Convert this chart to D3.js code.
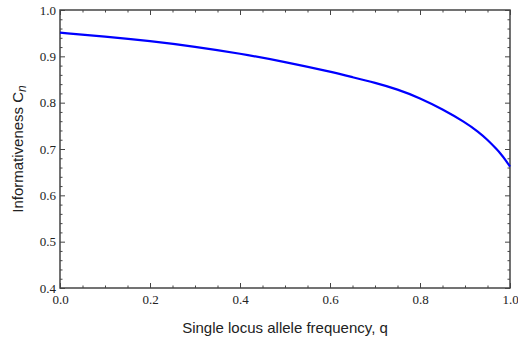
<!DOCTYPE html>
<html lang="en">
<head>
<meta charset="UTF-8">
<script src="https://d3js.org/d3.v7.min.js"></script>
<style>
  body { margin: 0; background: #fff; }
  #plot { position: absolute; width: 518px; height: 344px; }
  .tick text { font-family: "Liberation Serif", "Times New Roman", serif; font-size: 13px; }
</style>
</head>
<body>
<div id="plot"></div>
<script>
// values
const freq = [0, 0.1, 0.2, 0.3, 0.4, 0.5, 0.6, 0.65, 0.7, 0.75, 0.8, 0.85, 0.9, 0.93, 0.95, 0.97, 0.98, 0.99, 1.0];
const informativeness = [0.951, 0.943, 0.933, 0.921, 0.906, 0.888, 0.867, 0.855, 0.843, 0.829, 0.810, 0.786, 0.758, 0.737, 0.720, 0.700, 0.689, 0.6765, 0.662];
const xTicks = [0, 0.2, 0.4, 0.6, 0.8, 1.0];
const yTicks = [0.4, 0.5, 0.6, 0.7, 0.8, 0.9, 1.0];

function drawChart() {
  const margin = {top: 10, right: 8, bottom: 56, left: 60};
  const width = 518, height = 344;
  const visWidth = width - margin.left - margin.right;
  const visHeight = height - margin.top - margin.bottom;

  const svg = d3.select("#plot").append("svg")
      .attr("width", width)
      .attr("height", height);
  const g = svg.append("g")
      .attr("transform", `translate(${margin.left}, ${margin.top})`);

  // scales
  const x = d3.scaleLinear().domain([0, 1]).range([0, visWidth]);
  const y = d3.scaleLinear().domain([0.4, 1.0]).range([visHeight, 0]);

  const minorX = d3.range(0, 1.0001, 0.05).filter(v => !xTicks.some(t => Math.abs(t - v) < 1e-6));
  const minorY = d3.range(0.4, 1.0001, 0.02).filter(v => !yTicks.some(t => Math.abs(t - v) < 1e-6));

  const axisColor = "#444";
  const fmt = d3.format(".1f");

  function styleAxis(sel) {
    sel.attr("font-family", "Liberation Serif, Times New Roman, serif").attr("font-size", 13);
    sel.selectAll(".domain").remove();
    sel.selectAll("line").attr("stroke", axisColor).attr("stroke-width", 1);
    sel.selectAll("text").attr("fill", "#222");
  }

  // minor ticks, all four sides, inward
  g.append("g").attr("transform", `translate(0, ${visHeight})`)
    .call(d3.axisBottom(x).tickValues(minorX).tickSize(-2.5).tickFormat(""))
    .call(styleAxis);
  g.append("g")
    .call(d3.axisTop(x).tickValues(minorX).tickSize(-2.5).tickFormat(""))
    .call(styleAxis);
  g.append("g")
    .call(d3.axisLeft(y).tickValues(minorY).tickSize(-2.5).tickFormat(""))
    .call(styleAxis);
  g.append("g").attr("transform", `translate(${visWidth}, 0)`)
    .call(d3.axisRight(y).tickValues(minorY).tickSize(-2.5).tickFormat(""))
    .call(styleAxis);

  // major ticks
  g.append("g").attr("transform", `translate(0, ${visHeight})`)
    .call(d3.axisBottom(x).tickValues(xTicks).tickSizeInner(-5).tickSizeOuter(0).tickFormat(fmt))
    .call(styleAxis)
    .call(a => a.selectAll("text").attr("y", 7).attr("dy", "0.71em"));
  g.append("g")
    .call(d3.axisTop(x).tickValues(xTicks).tickSize(-5).tickFormat(""))
    .call(styleAxis);
  g.append("g")
    .call(d3.axisLeft(y).tickValues(yTicks).tickSizeInner(-5).tickSizeOuter(0).tickFormat(fmt))
    .call(styleAxis)
    .call(a => a.selectAll("text").attr("x", -4));
  g.append("g").attr("transform", `translate(${visWidth}, 0)`)
    .call(d3.axisRight(y).tickValues(yTicks).tickSize(-5).tickFormat(""))
    .call(styleAxis);

  // frame
  g.append("rect")
      .attr("width", visWidth)
      .attr("height", visHeight)
      .attr("fill", "none")
      .attr("stroke", axisColor)
      .attr("stroke-width", 1.5);

  // curve
  const line = d3.line()
      .x((d, i) => x(freq[i]))
      .y(d => y(d))
      .curve(d3.curveBasis);
  g.append("path")
      .datum(informativeness)
      .attr("fill", "none")
      .attr("stroke", "#0000ff")
      .attr("stroke-width", 2.2)
      .attr("d", line);

  // axis titles
  svg.append("text")
      .attr("x", margin.left + visWidth / 2)
      .attr("y", 333)
      .attr("text-anchor", "middle")
      .style("font-family", "'Liberation Sans', Arial, sans-serif")
      .style("font-size", "15px")
      .attr("fill", "#222")
      .text("Single locus allele frequency, q");

  const yt = svg.append("text")
      .attr("transform", `translate(23, ${margin.top + visHeight / 2}) rotate(-90)`)
      .attr("text-anchor", "middle")
      .style("font-family", "'Liberation Sans', Arial, sans-serif")
      .style("font-size", "15px")
      .attr("fill", "#222");
  yt.append("tspan").text("Informativeness C");
  yt.append("tspan").attr("dy", 3).style("font-style", "italic").style("font-size", "12px").text("n");
}

window.onload = drawChart;
</script>
</body>
</html>
